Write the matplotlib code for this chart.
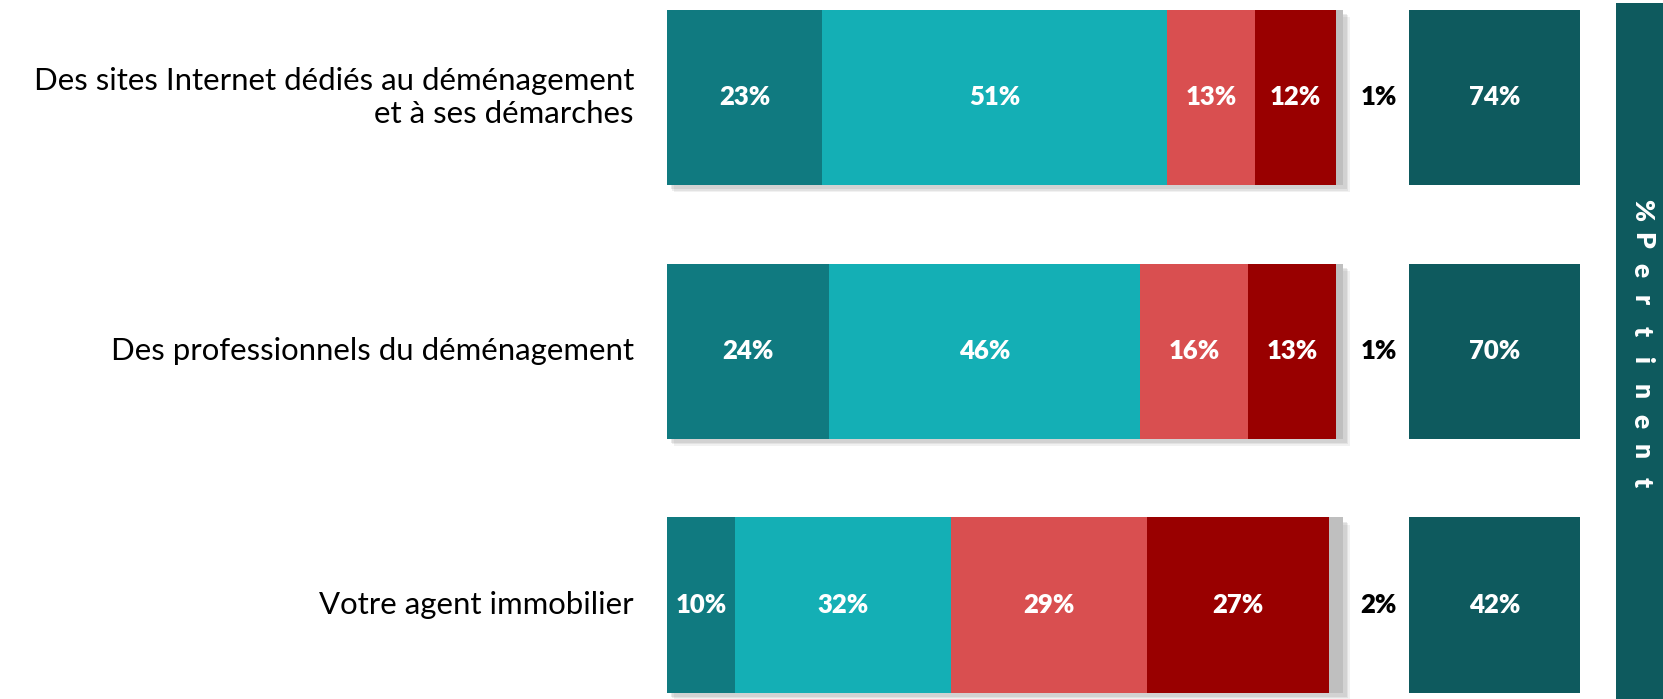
import matplotlib
matplotlib.use("Agg")
import matplotlib.pyplot as plt
from matplotlib.patches import Rectangle

plt.rcParams['font.family'] = ['Lato', 'DejaVu Sans']

categories = ["Des sites Internet dédiés au déménagement\net à ses démarches",
              "Des professionnels du déménagement",
              "Votre agent immobilier"]
tres = [23, 24, 10]
plutot = [51, 46, 32]
plutot_pas = [13, 16, 29]
pas_du_tout = [12, 13, 27]
nsp = [1, 1, 2]
pertinent = [74, 70, 42]
side_label = "%Pertinent"

colors = ["#107A80", "#14AFB5", "#D94F50", "#990000", "#BFBFBF"]
dark = "#0E5A5E"

W, H = 1663, 699
px = 6.76  # pixels per percent
x0 = 667   # left of bars in pixels
row = 254.0

fig = plt.figure(figsize=(W / 100, H / 100), dpi=100)
ax = fig.add_axes([0, 0, 1, 1])
ax.set_xlim(-x0 / px, (W - x0) / px)
ax.set_ylim(2 + (H - 605) / row, -97.5 / row)
ax.axis("off")

y = range(len(categories))
h = 0.69

left = [0] * 3
for series, c in zip([tres, plutot, plutot_pas, pas_du_tout, nsp], colors):
    ax.barh(y, series, left=left, height=h, color=c, lw=0, zorder=2)
    if c != colors[-1]:
        for i, v in enumerate(series):
            ax.text(left[i] + v / 2, i, f"{v}%", ha="center", va="center",
                    color="white", fontsize=18.5, fontweight="heavy", zorder=3)
    left = [l + v for l, v in zip(left, series)]

# soft shadow behind the stacked bars
for i in y:
    for k, a in enumerate([0.10, 0.12, 0.15]):
        off = (3 - k) * 1.5
        ax.add_patch(Rectangle((0.3 + off / px, i - h / 2 + off / row + 0.01), 100, h,
                               facecolor="#777777", alpha=a, edgecolor="none", zorder=1))

for i, v in enumerate(nsp):
    ax.text(105.3, i, f"{v}%", ha="center", va="center", color="black",
            fontsize=18.5, fontweight="heavy")

ax.barh(y, [25.2] * 3, left=109.8, height=h, color=dark, lw=0)
for i, v in enumerate(pertinent):
    ax.text(122.4, i, f"{v}%", ha="center", va="center", color="white",
            fontsize=18.5, fontweight="heavy")

for i, lab in enumerate(categories):
    ax.text(-33 / px, i, lab, ha="right", va="center", fontsize=22.4,
            color="black", linespacing=1.2)

ax.add_patch(Rectangle((140.4, -94.5 / row), 10, 5, facecolor=dark, edgecolor="none"))
step = (482 - 210) / (len(side_label) - 1)
for k, ch in enumerate(side_label):
    ax.text(144.2, (210 + k * step - 97.5) / row, ch, rotation=-90,
            ha="center", va="center", color="white", fontsize=19, fontweight="heavy")

fig.savefig("out.png", dpi=100)
